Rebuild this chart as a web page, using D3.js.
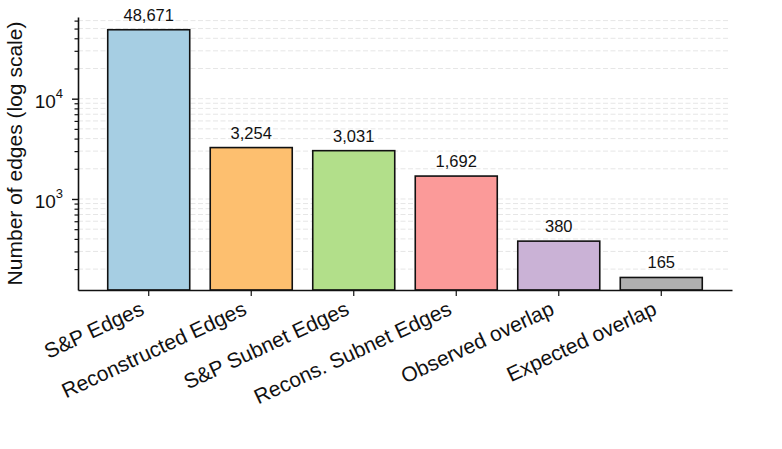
<!DOCTYPE html>
<html>
<head>
<meta charset="utf-8">
<script src="https://cdn.jsdelivr.net/npm/d3@7"></script>
<style>
  body { margin: 0; background: #fff; }
  svg { font-family: "Liberation Sans", Arial, sans-serif; }
</style>
</head>
<body>
<svg id="chart" width="782" height="449"></svg>
<script>
const categories = ["S&P Edges", "Reconstructed Edges", "S&P Subnet Edges", "Recons. Subnet Edges", "Observed overlap", "Expected overlap"]
const values = [48671, 3254, 3031, 1692, 380, 165]
const colors = ["#a6cee3", "#fdbf6f", "#b2df8a", "#fb9a99", "#cab2d6", "#b0b0b0"]
const majorTicks = [1000, 10000]
const minorTicks = [200, 300, 400, 500, 600, 700, 800, 900,
                    2000, 3000, 4000, 5000, 6000, 7000, 8000, 9000,
                    20000, 30000, 40000, 50000, 60000]

const margin = ({ top: 17, right: 50, left: 78, bottom: 159 })
const width = 782
const height = 449

const svg = d3.select("#chart")

const x = d3.scaleBand()
    .domain(categories)
    .range([margin.left, width - margin.right])
    .paddingInner(0.2)
    .paddingOuter(0.29)

const y = d3.scaleLog()
    .domain([123.75, 65200])
    .range([height - margin.bottom, margin.top])

// grid lines
svg.append("g")
    .selectAll("line")
    .data(majorTicks.concat(minorTicks))
    .join("line")
    .attr("x1", margin.left)
    .attr("x2", width - margin.right - 3)
    .attr("y1", d => y(d))
    .attr("y2", d => y(d))
    .attr("stroke", "#e6e6e6")
    .attr("stroke-width", 1)
    .attr("stroke-dasharray", "5,2.5")

// bars
svg.append("g")
    .selectAll("rect")
    .data(values)
    .join("rect")
    .attr("x", (d, i) => x(categories[i]))
    .attr("y", d => y(d))
    .attr("width", x.bandwidth())
    .attr("height", d => y.range()[0] - y(d))
    .attr("fill", (d, i) => colors[i])
    .attr("stroke", "#111")
    .attr("stroke-width", 1.6)

// value labels
svg.append("g")
    .selectAll("text")
    .data(values)
    .join("text")
    .attr("x", (d, i) => x(categories[i]) + x.bandwidth() / 2)
    .attr("y", d => y(d) - 9)
    .attr("text-anchor", "middle")
    .attr("font-size", 16.5)
    .attr("fill", "#111")
    .text(d => d3.format(",")(d))

// x axis
const xAxis = svg.append("g")
    .attr("transform", `translate(0,${height - margin.bottom})`)
    .call(d3.axisBottom(x).tickSize(6).tickSizeOuter(0))
xAxis.select(".domain").attr("stroke", "#111").attr("stroke-width", 1.6)
xAxis.selectAll(".tick line").attr("stroke", "#111").attr("stroke-width", 1.2)
xAxis.selectAll(".tick text")
    .attr("font-size", 21)
    .attr("fill", "#111")
    .attr("text-anchor", "end")
    .attr("transform", "translate(-12,5) rotate(-25)")
    .attr("dy", "0.7em")
    .attr("y", 6)

// y axis, minor ticks
const yMinor = svg.append("g")
    .attr("transform", `translate(${margin.left},0)`)
    .call(d3.axisLeft(y).tickValues(minorTicks).tickSize(3.5).tickFormat(""))
yMinor.select(".domain").remove()
yMinor.selectAll(".tick line").attr("stroke", "#111").attr("stroke-width", 1.2)

// y axis, major ticks
const yAxis = svg.append("g")
    .attr("transform", `translate(${margin.left},0)`)
    .call(d3.axisLeft(y).tickValues(majorTicks).tickSize(6).tickSizeOuter(0).tickFormat(""))
yAxis.select(".domain").attr("stroke", "#111").attr("stroke-width", 1.6)
yAxis.selectAll(".tick line").attr("stroke", "#111").attr("stroke-width", 1.4)

const yLabels = yAxis.selectAll(".tick")
    .append("text")
    .attr("x", -15)
    .attr("dy", "0.45em")
    .attr("text-anchor", "end")
    .attr("fill", "#111")
    .attr("font-size", 19)
yLabels.append("tspan").text("10")
yLabels.append("tspan")
    .attr("font-size", 13)
    .attr("dy", "-0.75em")
    .text(d => Math.round(Math.log10(d)))

// y title
svg.append("text")
    .attr("transform", `translate(22,${(margin.top + height - margin.bottom) / 2}) rotate(-90)`)
    .attr("text-anchor", "middle")
    .attr("font-size", 21)
    .attr("fill", "#111")
    .text("Number of edges (log scale)")
</script>
</body>
</html>
